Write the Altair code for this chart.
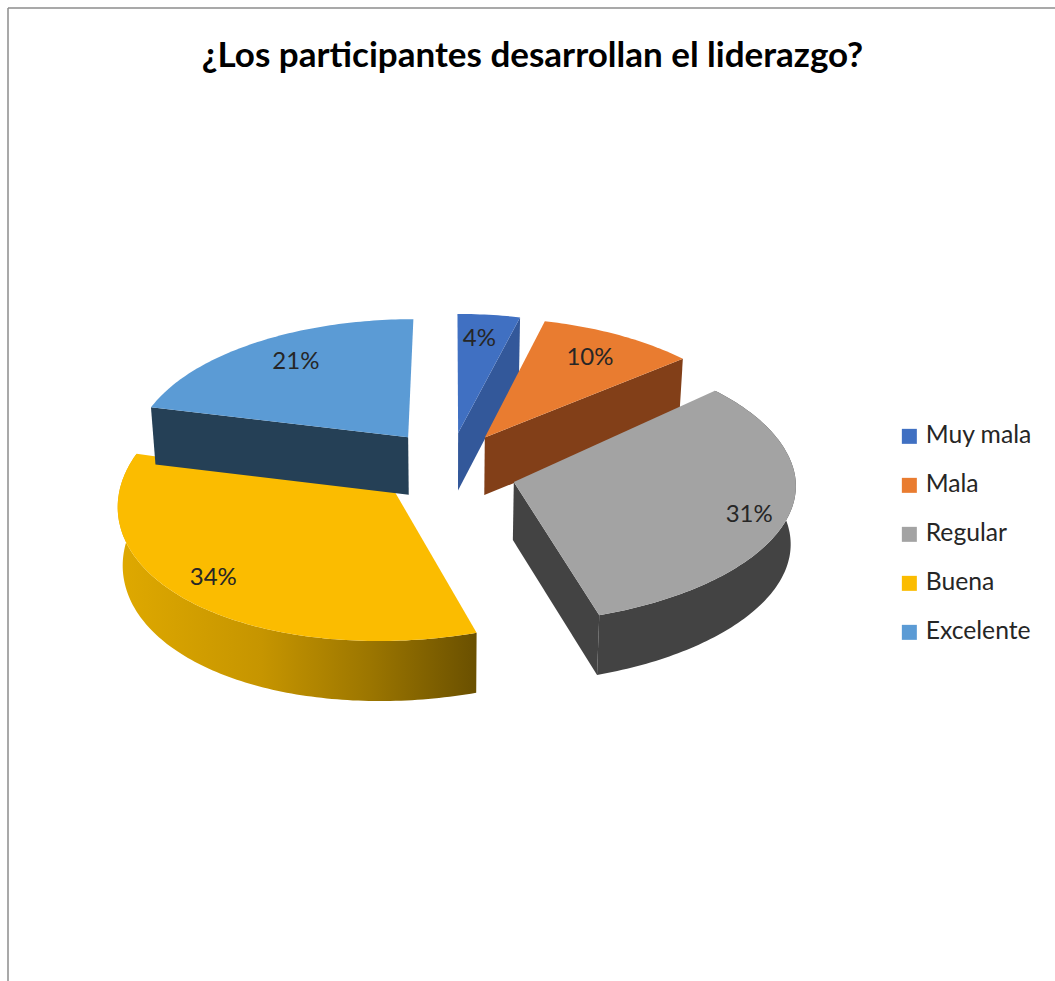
import math
import altair as alt
import pandas as pd

# Survey results
categories = ["Muy mala", "Mala", "Regular", "Buena", "Excelente"]
percentages = [4, 10, 31, 34, 21]
title_text = "¿Los participantes desarrollan el liderazgo?"

top_colors = ["#4070c2", "#e97c30", "#a3a3a3", "#fbbc00", "#5b9bd5"]
wall_colors = ["#33589a", "#823f18", "#434343", None, "#254056"]

# Projection of the tilted, exploded pie onto the page
W, H = 1055, 981
CX, CY = 450, 464
A, B = 279, 135
PERSPECTIVE = 0.09
FRONT_SHEAR = 15
DEPTH = 58
EXPLODE = 0.237
LOW_SHRINK = 0.985

# Per-slice tweaks: pixel shift of the apex, and label distance along each axis
APEX_SHIFT = [(0, 0), (0, 0), (0, 9), (-10, 2), (-2, -2)]
LABEL_RU = [0.68, 0.77, 0.85, 0.87, 0.73]
LABEL_RV = [0.78, 0.76, 1.08, 0.84, 0.79]


def project(u, v, low=False):
    s = 1 / (1 + PERSPECTIVE * v)
    x = CX + A * u * s
    y = CY - B * v * s
    if v < 0:
        x -= FRONT_SHEAR * v * v
    if low:
        x = CX + (x - CX) * LOW_SHRINK
        y = y + DEPTH * (1 - 0.03 * v)
    return x, y


def slice_outline(start, end, explode):
    mid = math.radians((start + end) / 2)
    ou, ov = explode * math.sin(mid), explode * math.cos(mid)
    n = max(2, int(end - start))
    rim = []
    for i in range(n + 1):
        a = math.radians(start + (end - start) * i / n)
        rim.append((ou + math.sin(a), ov + math.cos(a)))
    return (ou, ov), rim


def polygon(points):
    return pd.DataFrame(
        {"x": [p[0] for p in points], "y": [p[1] for p in points], "i": range(len(points))}
    )


x_scale = alt.Scale(domain=[0, W], range=[0, W], nice=False, zero=False)
y_scale = alt.Scale(domain=[0, H], range=[0, H], nice=False, zero=False)
color_scale = alt.Scale(domain=categories, range=top_colors)
x_enc = alt.X("x:Q", scale=x_scale, axis=None)
y_enc = alt.Y("y:Q", scale=y_scale, axis=None)

buena_rim = alt.Gradient(
    gradient="linear",
    x1=0, y1=0, x2=1, y2=0,
    stops=[
        alt.GradientStop(color="#dfa900", offset=0),
        alt.GradientStop(color="#c69500", offset=0.4),
        alt.GradientStop(color="#9c7600", offset=0.7),
        alt.GradientStop(color="#6a5000", offset=1),
    ],
)


def filled(points, fill):
    return (
        alt.Chart(polygon(points))
        .mark_line(fill=fill, strokeWidth=0, interpolate="linear")
        .encode(x=x_enc, y=y_enc, order="i:Q")
    )


layers = []
label_rows = []
start = 0.0
for k, (cat, pct) in enumerate(zip(categories, percentages)):
    end = start + pct * 3.6
    apex, rim = slice_outline(start, end, EXPLODE)

    ax, ay = project(*apex)
    ax_low, ay_low = project(*apex, low=True)
    shift_x, shift_y = APEX_SHIFT[k]
    apex_top = (ax + shift_x, ay + shift_y)
    apex_low = (ax_low + shift_x, ay_low + shift_y)

    rim_top = [project(*p) for p in rim]
    rim_low = [project(*p, low=True) for p in rim]

    # Walls first, the top face goes over them
    if cat in ("Regular", "Buena"):
        band = rim_top + rim_low[::-1]
        layers.append(filled(band, buena_rim if wall_colors[k] is None else wall_colors[k]))
    if cat in ("Muy mala", "Mala", "Regular"):
        layers.append(filled([apex_top, rim_top[-1], rim_low[-1], apex_low], wall_colors[k]))
    if cat == "Excelente":
        layers.append(filled([apex_top, rim_top[0], rim_low[0], apex_low], wall_colors[k]))

    top_df = polygon([apex_top] + rim_top)
    top_df["categoria"] = cat
    layers.append(
        alt.Chart(top_df)
        .mark_line(strokeWidth=0, interpolate="linear")
        .encode(
            x=x_enc,
            y=y_enc,
            order="i:Q",
            fill=alt.Fill(
                "categoria:N",
                scale=color_scale,
                legend=alt.Legend(
                    title=None,
                    orient="none",
                    legendX=897,
                    legendY=424,
                    symbolType="square",
                    symbolSize=225,
                    symbolStrokeWidth=0,
                    labelFont="Lato",
                    labelFontSize=24.7,
                    labelColor="#262626",
                    labelOffset=4,
                    rowPadding=23,
                ),
            ),
        )
    )

    mid = math.radians((start + end) / 2)
    lx, ly = project(
        apex[0] + LABEL_RU[k] * math.sin(mid), apex[1] + LABEL_RV[k] * math.cos(mid)
    )
    label_rows.append({"x": lx, "y": ly, "texto": f"{pct}%"})
    start = end

labels = (
    alt.Chart(pd.DataFrame(label_rows))
    .mark_text(font="Lato", fontSize=24, color="#262626", align="center", baseline="middle")
    .encode(x=x_enc, y=y_enc, text="texto:N")
)

frame_left = (
    alt.Chart(pd.DataFrame({"x": [8], "y": [8], "y2": [H]}))
    .mark_rule(color="#8c8c8c", strokeWidth=1.5)
    .encode(x=x_enc, y=y_enc, y2="y2:Q")
)
frame_top = (
    alt.Chart(pd.DataFrame({"x": [8], "x2": [W], "y": [8]}))
    .mark_rule(color="#8c8c8c", strokeWidth=1.5)
    .encode(x=x_enc, x2="x2:Q", y=y_enc)
)

chart = (
    alt.layer(frame_left, frame_top, *layers, labels)
    .properties(
        width=W,
        height=H,
        padding=0,
        background="white",
        autosize=alt.AutoSizeParams(type="none"),
        title=alt.TitleParams(
            title_text,
            font="Lato",
            fontSize=35,
            fontWeight="bold",
            color="#000000",
            anchor="middle",
            dx=5,
            dy=78,
        ),
    )
    .configure_view(stroke=None)
)

chart.save("out.html", embed_options={"renderer": "svg", "actions": False})
